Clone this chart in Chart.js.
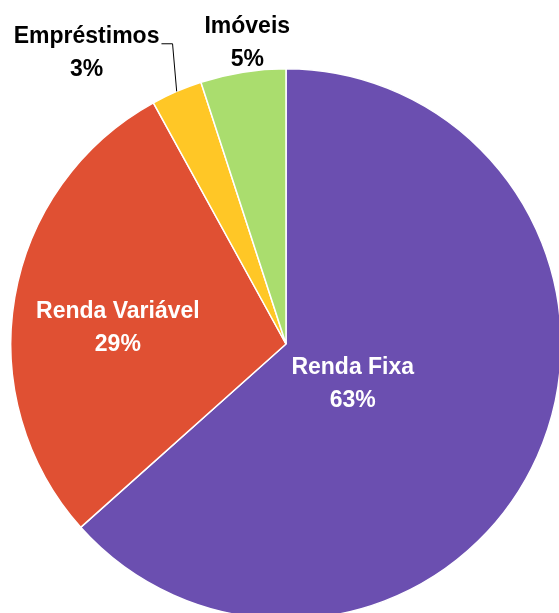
<!DOCTYPE html>
<html>
<head>
<meta charset="utf-8">
<script src="https://cdn.jsdelivr.net/npm/chart.js@4.4.0/dist/chart.umd.min.js"></script>
<style>
  html, body { margin: 0; padding: 0; background: #fff; overflow: hidden; }
  #wrap { width: 580px; height: 630px; position: relative; }
</style>
</head>
<body>
<div id="wrap"><canvas id="chart"></canvas></div>
<script>
// data
const categories = ['Renda Fixa', 'Renda Variável', 'Empréstimos', 'Imóveis'];
const shares = [63.4, 28.6, 3.0, 5.0];
const pctLabels = ['63%', '29%', '3%', '5%'];
const colors = ['#6B4FB0', '#E05033', '#FFC726', '#AADD6E'];

// where each label sits: angle (deg clockwise from top), distance as part of radius
const labelPlace = [
  { angle: 125.0, dist: 0.296, color: '#fff' },
  { angle: 273.4, dist: 0.612, color: '#fff' },
  { angle: 325.0, dist: 1.263, color: '#000', leader: { angle: 339.3, dist: 1.166 } },
  { angle: 352.5, dist: 1.078, color: '#000' }
];

const pieLabels = {
  id: 'pieLabels',
  afterDatasetsDraw(chart) {
    const ctx = chart.ctx;
    const arcs = chart.getDatasetMeta(0).data;
    ctx.save();
    ctx.font = 'bold 23px "Liberation Sans", Arial, sans-serif';
    ctx.textAlign = 'center';
    ctx.textBaseline = 'alphabetic';
    arcs.forEach((arc, i) => {
      const p = labelPlace[i];
      const r = arc.outerRadius;
      const a = p.angle * Math.PI / 180;
      const cx = arc.x + Math.sin(a) * r * p.dist;
      const cy = arc.y - Math.cos(a) * r * p.dist;
      ctx.fillStyle = p.color;
      ctx.fillText(categories[i], cx, cy - 16.5);
      ctx.fillText(pctLabels[i], cx, cy + 16.5);

      if (p.leader) {
        // leader line: from the slice edge up to an elbow, then across to the text
        const mid = (arc.startAngle + arc.endAngle) / 2;
        const ex = arc.x + Math.cos(mid) * r;
        const ey = arc.y + Math.sin(mid) * r;
        const ea = p.leader.angle * Math.PI / 180;
        const bx = arc.x + Math.sin(ea) * r * p.leader.dist;
        const by = arc.y - Math.cos(ea) * r * p.leader.dist;
        const tw = ctx.measureText(categories[i]).width;
        ctx.strokeStyle = '#000';
        ctx.lineWidth = 1;
        ctx.beginPath();
        ctx.moveTo(ex, ey);
        ctx.lineTo(bx, by);
        ctx.lineTo(cx + tw / 2 + 2, by);
        ctx.stroke();
      }
    });
    ctx.restore();
  }
};

new Chart(document.getElementById('chart'), {
  type: 'pie',
  data: {
    labels: categories,
    datasets: [{
      data: shares,
      backgroundColor: colors,
      borderColor: '#fff',
      borderWidth: 1.5
    }]
  },
  options: {
    responsive: true,
    maintainAspectRatio: false,
    animation: false,
    layout: { padding: { left: 10, top: 68, right: 18, bottom: 10 } },
    plugins: {
      legend: { display: false },
      tooltip: { enabled: false }
    }
  },
  plugins: [pieLabels]
});
</script>
</body>
</html>
